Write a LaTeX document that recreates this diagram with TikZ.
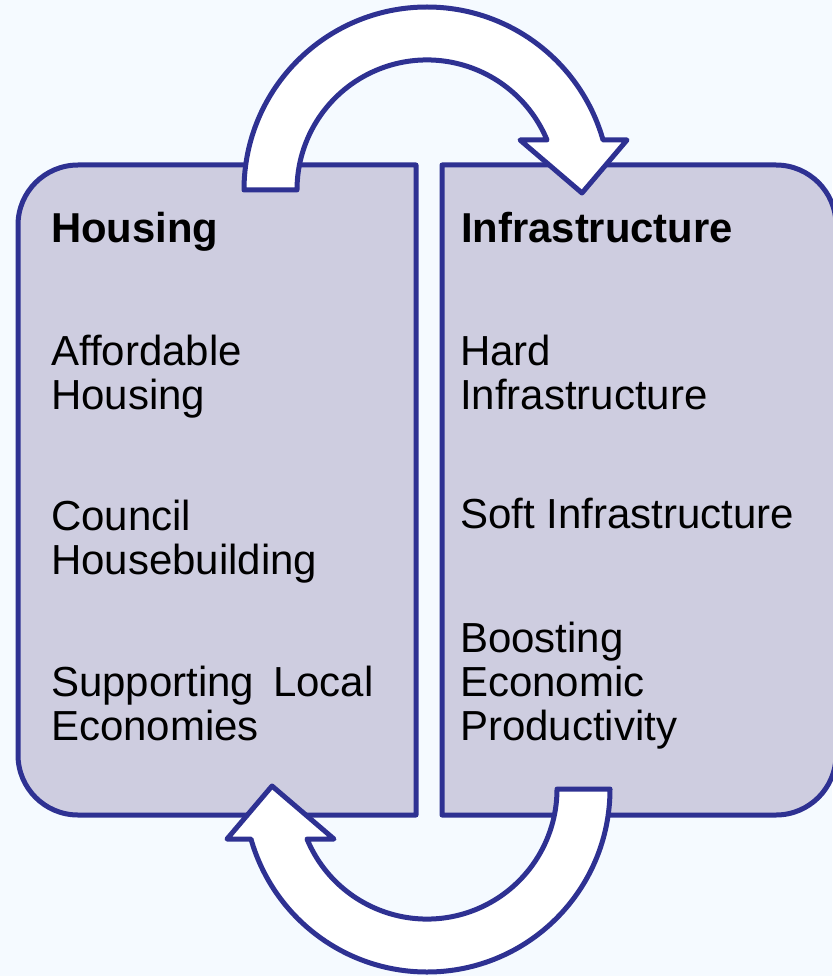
\documentclass[tikz,border=0pt]{standalone}
\usepackage{fontspec}
\setmainfont{Liberation Sans}
\usepackage{tikz}
\usepackage{xcolor}
\usetikzlibrary{positioning}

\definecolor{cyclebg}{RGB}{245,250,255}
\definecolor{cycleline}{RGB}{46,49,146}
\definecolor{cyclefill}{RGB}{206,205,224}

\tikzset{
  panel/.style={draw=cycleline, fill=cyclefill, line width=5pt, line join=round},
  cyclearrow/.style={draw=cycleline, fill=white, line width=5pt, line join=round},
  head/.style={anchor=base west, inner sep=0pt, font=\fontsize{41.8}{44}\selectfont\bfseries},
  item/.style={anchor=base west, inner sep=0pt, align=left, font=\fontsize{42}{44}\selectfont}
}

\begin{document}
\begin{tikzpicture}[x=1pt, y=-1pt]
                \useasboundingbox[fill=cyclebg] (0,0) rectangle (832,976);

                % the two panels
                \draw[panel] (416,165) -- (78,165) arc[start angle=270, end angle=180, radius=60]
                    -- (18,755) arc[start angle=180, end angle=90, radius=60] -- (416,815) -- cycle;
                \draw[panel] (442,165) -- (776,165) arc[start angle=270, end angle=360, radius=60]
                    -- (836,755) arc[start angle=0, end angle=90, radius=60] -- (442,815) -- cycle;

                % curved block arrows
                \draw[cyclearrow] (244,190) arc[start angle=180, end angle=344.14, radius=183]
                    -- (627,140) -- (582,193) -- (520,140) -- (547,140)
                    arc[start angle=337.4, end angle=180, radius=130] -- cycle;
                \draw[cyclearrow] (610,789) arc[start angle=0, end angle=164.14, radius=183]
                    -- (227,839) -- (272,786) -- (334,839) -- (307,839)
                    arc[start angle=157.4, end angle=0, radius=130] -- cycle;

                % base anchor of a multi-line node sits on its last line
                \node[head] (hhead) at (51,243) {Housing};
                \node[item] (haff) at (51,409) {Affordable\\Housing};
                \node[item] (hcouncil) at (51,574) {Council\\Housebuilding};
                \node[item] (hlocal) at (51,740) {Supporting\hspace{0.45em}Local\\Economies};

                \node[head] (ihead) at (461,243) {Infrastructure};
                \node[item] (ihard) at (460,409) {Hard\\Infrastructure};
                \node[item] (isoft) at (460,528) {Soft Infrastructure};
                \node[item] (iboost) at (460,740) {Boosting\\Economic\\Productivity};
            \end{tikzpicture}
\end{document}
